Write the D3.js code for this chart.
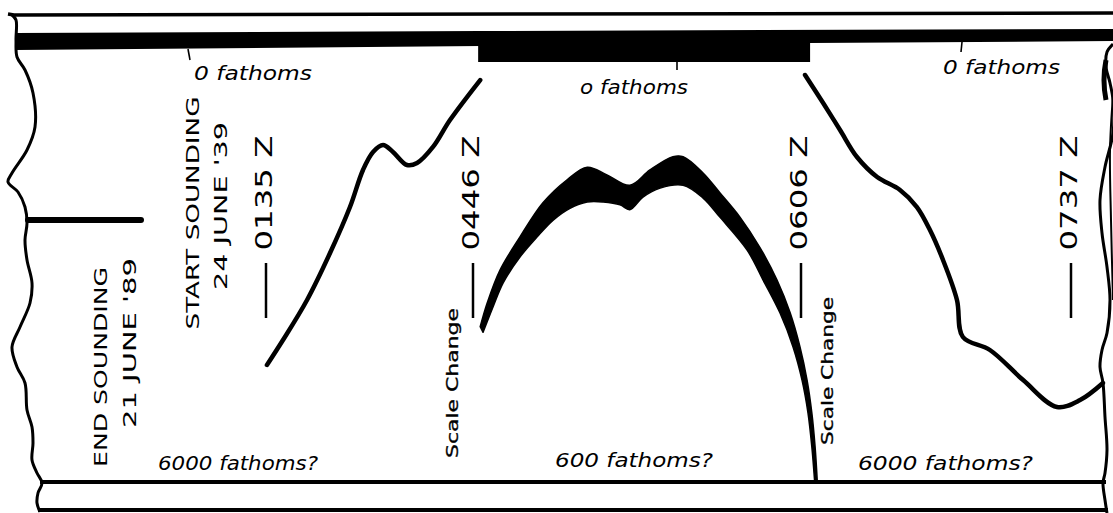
<!DOCTYPE html>
<html><head><meta charset="utf-8">
<script src="https://cdn.jsdelivr.net/npm/d3@7"></script>
<style>html,body{margin:0;padding:0;background:#fff;overflow:hidden}</style>
</head><body><svg id="c" width="1113" height="513"></svg>
<script>
// ---- DATA ----
// time marks on the record (minutes after 0000Z)
const timeLabels = ["0135 Z", "0446 Z", "0606 Z", "0737 Z"];
const timeMinutes = [95, 286, 366, 457];
const zeroLabels = ["0 fathoms", "o fathoms", "0 fathoms"];
const bottomLabels = ["6000 fathoms?", "600 fathoms?", "6000 fathoms?"];
const fullScales = [6000, 600, 6000];
const scaleChangeLabels = ["Scale Change", "Scale Change"];
const scaleChangeTimes = [287.5, 369.4];
const endText = ["END SOUNDING", "21 JUNE '89"];
const startText = ["START SOUNDING", "24 JUNE '39"];

// Leg 1, 6000-fathom scale
const leg1Time  = [96.8, 111.6, 133.8, 155.0, 173.4, 185.4, 194.7, 203.9, 213.1, 226.0, 235.3, 250.0, 265.7, 288.0];
const leg1Depth = [4395, 4047, 3488, 2833, 2191, 1674, 1423, 1326, 1423, 1605, 1577, 1353, 977, 419];

// Leg 2, 600-fathom scale: upper and lower edge of the broad echo trace
const leg2TopTime  = [288.0, 289.7, 292.8, 297.7, 303.3, 309.2, 314.1, 318.9, 324.5, 329.4, 335.0, 337.5, 342.3, 346.5, 351.4, 356.2, 360.4, 363.6, 366.0, 368.4, 370.0, 371.1, 371.8];
const leg2TopDepth = [380, 346, 299, 251, 202, 169, 151, 162, 177, 155, 136, 136, 159, 188, 223, 266, 313, 360, 409, 457, 504, 553, 600];
const leg2BotTime  = [288.7, 291.1, 293.6, 297.7, 301.9, 305.8, 309.9, 314.1, 318.0, 322.1, 324.5, 327.7, 331.9, 337.5, 342.3, 346.5, 353.1, 357.0, 361.1, 364.3, 366.7, 368.7, 370.0, 370.9];
const leg2BotDepth = [388, 352, 317, 280, 251, 227, 210, 201, 201, 205, 212, 194, 181, 177, 195, 223, 270, 313, 360, 409, 457, 504, 553, 600];

// Leg 3, 6000-fathom scale
const leg3Time  = [367.7, 373.8, 379.5, 385.2, 392.0, 399.7, 405.4, 409.8, 414.2, 418.9, 420.9, 430.0, 441.2, 452.6, 460.4, 468.1];
const leg3Depth = [349, 740, 1116, 1493, 1772, 1953, 2191, 2512, 2930, 3488, 4005, 4186, 4605, 4981, 4884, 4646];

// ---- DRAWING ----
const svg = d3.select("#c");
const W = 1113, H = 513;
svg.append("rect").attr("width", W).attr("height", H).attr("fill", "#fff");

const x = d3.scaleLinear().domain(timeMinutes).range([265, 472, 800, 1070]);
const yDeep = d3.scaleLinear().domain([0, fullScales[0]]).range([50, 480]);
const yShallow = d3.scaleLinear().domain([0, fullScales[1]]).range([62, 480]);

const font = "'DejaVu Sans', 'Liberation Sans', sans-serif";

// paper frame
const frame = svg.append("g").attr("fill", "none").attr("stroke", "#000");
frame.append("path").attr("d", "M8,14 L14,15 L1113,13").attr("stroke-width", 3.5);
svg.append("path")
  .attr("d", "M15,33 L480,31 L1113,29 L1113,41 L810,43 L15,50 Z").attr("fill", "#000");
svg.append("rect")
  .attr("x", x(scaleChangeTimes[0])).attr("y", 31)
  .attr("width", x(scaleChangeTimes[1]) - x(scaleChangeTimes[0])).attr("height", 31)
  .attr("fill", "#000");
frame.append("path").attr("d", "M40,482 L1106,482").attr("stroke-width", 4);
frame.append("path").attr("d", "M38,510 L1108,510").attr("stroke-width", 4);

const edge = d3.line().curve(d3.curveCatmullRom);
const leftEdge = [[12,15],[16,20],[16,40],[17,57],[25,70],[33,93],[35,127],[27,150],[12,173],[8,182],[18,192],[25,207],[27,223],[25,240],[27,260],[32,283],[30,303],[20,327],[12,347],[17,367],[25,383],[27,410],[32,427],[33,443],[32,460],[37,473],[42,483],[38,493],[37,503],[40,512]];
frame.append("path").attr("d", edge(leftEdge)).attr("stroke-width", 3);
const rightEdge = [[1113,44],[1107,52],[1106,67],[1110,83],[1113,100],[1113,133],[1105,167],[1100,200],[1102,233],[1107,267],[1110,300],[1107,333],[1102,350],[1100,367],[1103,383],[1105,417],[1107,450],[1105,473],[1103,483],[1105,500],[1107,513]];
frame.append("path").attr("d", edge(rightEdge)).attr("stroke-width", 3);
frame.append("path").attr("d", edge([[1113,95],[1110,150],[1111,220],[1113,300]])).attr("stroke-width", 2);
frame.append("path").attr("d", "M1106,60 Q1102,80 1106,100").attr("stroke-width", 5);

// end-of-previous-record mark
svg.append("line").attr("x1", 28).attr("y1", 220).attr("x2", 141).attr("y2", 220)
  .attr("stroke", "#000").attr("stroke-width", 6).attr("stroke-linecap", "round");

// zero-fathom ticks
const zt = svg.append("g").attr("stroke", "#000").attr("stroke-width", 1.6);
zt.append("line").attr("x1", 188).attr("y1", 49).attr("x2", 190).attr("y2", 60);
zt.append("line").attr("x1", 677).attr("y1", 62).attr("x2", 677).attr("y2", 70);
zt.append("line").attr("x1", 962).attr("y1", 42).attr("x2", 961).attr("y2", 52);

// depth traces
const line = d3.line().curve(d3.curveCatmullRom.alpha(0.5));
const leg1 = leg1Time.map((t, i) => [x(t), yDeep(leg1Depth[i])]);
svg.append("path").attr("d", line(leg1)).attr("fill", "none").attr("stroke", "#000")
  .attr("stroke-width", 4.5).attr("stroke-linecap", "round").attr("stroke-linejoin", "round");

const top2 = leg2TopTime.map((t, i) => [x(t), yShallow(leg2TopDepth[i])]);
const bot2 = leg2BotTime.map((t, i) => [x(t), yShallow(leg2BotDepth[i])]);
const d2 = line(top2) + "L" + line(bot2.slice().reverse()).slice(1) + "Z";
svg.append("path").attr("d", d2)
  .attr("fill", "#000").attr("stroke", "#000").attr("stroke-width", 1.5).attr("stroke-linejoin", "round");

const leg3 = leg3Time.map((t, i) => [x(t), yDeep(leg3Depth[i])]);
svg.append("path").attr("d", line(leg3)).attr("fill", "none").attr("stroke", "#000")
  .attr("stroke-width", 4.5).attr("stroke-linecap", "round").attr("stroke-linejoin", "round");

// horizontal labels
function htext(str, x0, x1, base, size) {
  svg.append("text").attr("x", x0).attr("y", base).text(str)
    .attr("font-family", font).attr("font-style", "italic").attr("font-size", size)
    .attr("textLength", x1 - x0).attr("lengthAdjust", "spacingAndGlyphs").attr("fill", "#000");
}
htext(zeroLabels[0], 194, 312, 80, 20);
htext(zeroLabels[1], 580, 688, 94, 20);
htext(zeroLabels[2], 943, 1060, 74, 20);
htext(bottomLabels[0], 158, 318, 470, 19);
htext(bottomLabels[1], 555, 713, 467, 19);
htext(bottomLabels[2], 858, 1033, 470, 19);

// vertical labels
function vtext(str, cx, cy, size, len, extra) {
  const t = svg.append("text")
    .attr("transform", `translate(${cx},${cy}) rotate(-90)`)
    .attr("text-anchor", "middle").attr("dy", "0.35em").text(str)
    .attr("font-family", font).attr("font-size", size)
    .attr("textLength", len).attr("lengthAdjust", "spacingAndGlyphs").attr("fill", "#000");
  if (extra) extra(t);
}
vtext(endText[0], 101, 367, 17, 200);
vtext(endText[1], 130, 343, 17, 170);
vtext(startText[0], 193, 213, 17, 233);
vtext(startText[1], 221, 206, 17, 168);
const thick = t => t.attr("stroke", "#000").attr("stroke-width", 0.3);
vtext(scaleChangeLabels[0], 453, 383, 15, 150, thick);
vtext(scaleChangeLabels[1], 828, 371, 15, 148, thick);

timeLabels.forEach((lab, i) => {
  const px = x(timeMinutes[i]);
  vtext(lab, px - 1, 193, 23, 115);
  svg.append("line").attr("x1", px + 1).attr("x2", px + 1).attr("y1", 263).attr("y2", 318)
    .attr("stroke", "#000").attr("stroke-width", 2.5);
});
</script></body></html>
